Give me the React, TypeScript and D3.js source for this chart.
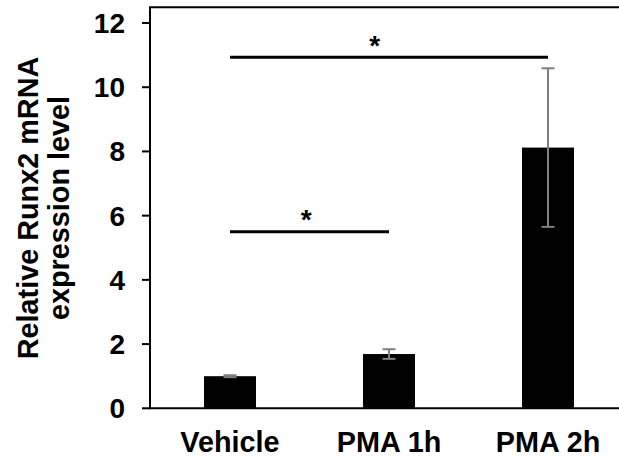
import React from "react";
import * as d3 from "d3";

const categories = ["Vehicle", "PMA 1h", "PMA 2h"];
const means = [1.0, 1.69, 8.12];
const errors = [0.03, 0.15, 2.47];
const yTicks = [0, 2, 4, 6, 8, 10, 12];
const sigFrom = ["Vehicle", "Vehicle"];
const sigTo = ["PMA 1h", "PMA 2h"];
const sigLevel = [5.5, 10.93];
const sigLabel = ["*", "*"];
const sigStarFrac = [0.48, 0.455];
const yTitleLines = ["Relative Runx2 mRNA", "expression level"];

const W = 619;
const H = 457;
const FONT = "'Liberation Sans', Arial, sans-serif";

export default function App() {
  const left = 150;
  const right = 619;
  const top = 7.3;
  const y = d3.scaleLinear().domain([0, 12]).range([408.3, 23]);
  const pi = 1 - 52 / 159;
  const x = d3
    .scaleBand<string>()
    .domain(categories)
    .range([150.5, 627.5])
    .paddingInner(pi)
    .paddingOuter(pi / 2);
  const bw = x.bandwidth();
  const cx = (c: string) => (x(c) as number) + bw / 2;
  const capW = 13;

  return (
    <div style={{ position: "absolute", left: 0, top: 0 }}>
      <svg width={W} height={H} style={{ display: "block", background: "#fff" }}>
        {/* bars */}
        {categories.map((c, i) => (
          <rect
            key={c}
            x={x(c)}
            y={y(means[i])}
            width={bw}
            height={y(0) - y(means[i])}
            fill="#000"
          />
        ))}
        {/* error bars */}
        {categories.map((c, i) => {
          const xc = cx(c);
          const hi = y(means[i] + errors[i]);
          const lo = y(means[i] - errors[i]);
          return (
            <g key={"e" + c} stroke="#7f7f7f" strokeWidth={2}>
              <line x1={xc} x2={xc} y1={hi} y2={lo} />
              <line x1={xc - capW / 2} x2={xc + capW / 2} y1={hi} y2={hi} />
              <line x1={xc - capW / 2} x2={xc + capW / 2} y1={lo} y2={lo} />
            </g>
          );
        })}
        {/* axes */}
        <line x1={left} x2={left} y1={top} y2={y(0)} stroke="#000" strokeWidth={2} />
        <line x1={left - 1} x2={right} y1={y(0)} y2={y(0)} stroke="#000" strokeWidth={2} />
        <line x1={left - 1} x2={right} y1={top} y2={top} stroke="#000" strokeWidth={2} />
        {yTicks.map((t) => (
          <g key={"t" + t}>
            <line x1={left - 8} x2={left} y1={y(t)} y2={y(t)} stroke="#000" strokeWidth={2} />
            <text
              x={125}
              y={y(t)}
              dy="0.355em"
              textAnchor="end"
              fontFamily={FONT}
              fontWeight="bold"
              fontSize={28}
              fill="#000"
            >
              {t}
            </text>
          </g>
        ))}
        {categories.map((c) => (
          <text
            key={"l" + c}
            x={cx(c)}
            y={452}
            textAnchor="middle"
            fontFamily={FONT}
            fontWeight="bold"
            fontSize={28.8}
            fill="#000"
          >
            {c}
          </text>
        ))}
        {/* y title */}
        {yTitleLines.map((t, i) => (
          <text
            key={"yt" + i}
            transform={`translate(${38 + i * 31},208) rotate(-90)`}
            textAnchor="middle"
            fontFamily={FONT}
            fontWeight="bold"
            fontSize={28.8}
            fill="#000"
          >
            {t}
          </text>
        ))}
        {/* significance */}
        {sigFrom.map((f, i) => {
          const x1 = cx(f);
          const x2 = cx(sigTo[i]);
          const yy = y(sigLevel[i]);
          return (
            <g key={"s" + i}>
              <line x1={x1} x2={x2} y1={yy} y2={yy} stroke="#000" strokeWidth={3} />
              <text
                x={x1 + (x2 - x1) * sigStarFrac[i]}
                y={yy - 2.5}
                textAnchor="middle"
                fontFamily={FONT}
                fontWeight="bold"
                fontSize={28}
                fill="#000"
              >
                {sigLabel[i]}
              </text>
            </g>
          );
        })}
      </svg>
    </div>
  );
}
